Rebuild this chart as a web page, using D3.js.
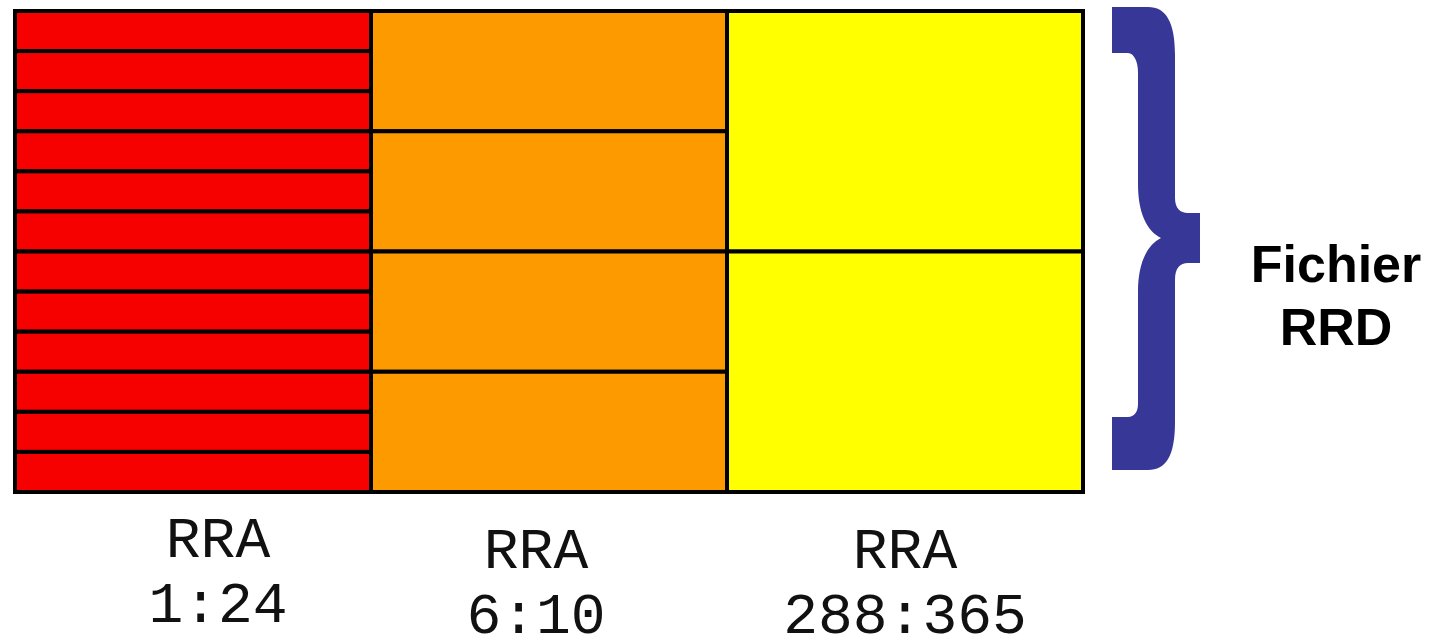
<!DOCTYPE html>
<html>
<head>
<meta charset="utf-8">
<script src="https://cdn.jsdelivr.net/npm/d3@7"></script>
<style>
  body { margin: 0; background: #fff; }
  .label { font-family: "Courier New", "Liberation Mono", monospace; font-size: 58px; fill: #111; }
  .title { font-family: Arial, "Liberation Sans", sans-serif; font-size: 52px; font-weight: bold; fill: #000; }
</style>
</head>
<body>
<div id="rrd"></div>
<script>
// Chart data: one column per RRA, with the number of rows in each
var rraNames = ["RRA", "RRA", "RRA"];
var rraSteps = ["1:24", "6:10", "288:365"];
var rowCounts = [12, 4, 2];
var rraColors = ["#f70000", "#fc9a00", "#ffff00"];
var fileLabel = ["Fichier", "RRD"];

// Define SVG area dimensions
var svgWidth = 1438;
var svgHeight = 639;

// Box area
var box = { left: 15, right: 1083, top: 11, bottom: 492 };

// small label nudges
var labelDx = [25, -13, 0];
var labelDy = [0, 11, 11];

var svg = d3.select("#rrd")
  .append("svg")
  .attr("width", svgWidth)
  .attr("height", svgHeight);

// column scale
var xBand = d3.scaleBand()
  .domain(d3.range(rowCounts.length))
  .range([box.left, box.right])
  .padding(0);

// build cells from the row counts
var cells = [];
rowCounts.forEach(function(count, col) {
  d3.range(count).forEach(function(row) {
    cells.push({ col: col, row: row, count: count });
  });
});

var cellGroup = svg.append("g");

cellGroup.selectAll("rect")
  .data(cells)
  .enter()
  .append("rect")
  .attr("x", d => xBand(d.col))
  .attr("width", xBand.bandwidth())
  .attr("y", function(d) {
    var y = d3.scaleLinear().domain([0, d.count]).range([box.top, box.bottom]);
    return y(d.row);
  })
  .attr("height", function(d) {
    var y = d3.scaleLinear().domain([0, d.count]).range([box.top, box.bottom]);
    return y(d.row + 1) - y(d.row);
  })
  .attr("fill", d => rraColors[d.col])
  .attr("stroke", "#000")
  .attr("stroke-width", 4);

// labels under each column
var labelGroup = svg.append("g");

rraNames.forEach(function(name, i) {
  var cx = xBand(i) + xBand.bandwidth() / 2 + labelDx[i];
  var t = labelGroup.append("text")
    .attr("class", "label")
    .attr("text-anchor", "middle")
    .attr("x", cx)
    .attr("y", 557 + labelDy[i]);
  t.append("tspan").attr("x", cx).text(name);
  t.append("tspan").attr("x", cx).attr("dy", 65).text(rraSteps[i]);
});

// the curly brace on the right
var bracePath = "M1112,7 L1148,7 C1166,7 1175,22 1175,55 L1175,198 C1175,208 1180,213 1188,213 " +
  "L1200,213 L1200,263 L1188,263 C1180,263 1175,268 1175,280 L1175,422 C1175,456 1166,470 1148,470 " +
  "L1112,470 L1112,417 L1128,417 C1134,417 1138,412 1138,404 L1138,292 C1138,263 1147,245 1161,238 " +
  "C1147,231 1138,213 1138,184 L1138,72 C1138,62 1134,53 1128,53 L1112,53 Z";

svg.append("path")
  .attr("d", bracePath)
  .attr("fill", "#363797");

// file label
var title = svg.append("text")
  .attr("class", "title")
  .attr("text-anchor", "middle")
  .attr("x", 1336)
  .attr("y", 282);

fileLabel.forEach(function(line, i) {
  title.append("tspan")
    .attr("x", 1336)
    .attr("dy", i === 0 ? 0 : 63)
    .text(line);
});
</script>
</body>
</html>
